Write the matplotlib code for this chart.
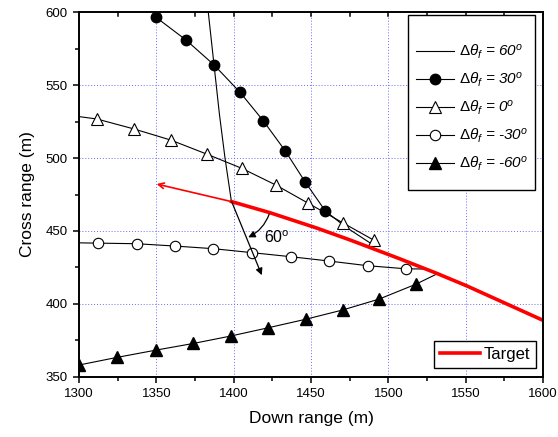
import matplotlib
matplotlib.use('Agg')
import matplotlib.pyplot as plt
from matplotlib.patches import Rectangle

plt.rcParams['font.family'] = ['Liberation Sans', 'DejaVu Sans']
plt.rcParams['mathtext.fontset'] = 'custom'
plt.rcParams['mathtext.rm'] = 'Liberation Sans'
plt.rcParams['mathtext.it'] = 'Liberation Sans:italic'

# launch angle 60 deg (no markers)
x60 = [1382.0, 1383.6, 1387.3, 1390.8, 1394.4, 1398.5]
y60 = [615.0, 600.0, 564.0, 530.0, 500.0, 470.5]

# launch angle 30 deg (filled circles), last two points: line only
x30 = [1349.8, 1369.2, 1387.3, 1404.1, 1419.1, 1433.4, 1446.1, 1459.2, 1472.0, 1490.0]
y30 = [596.7, 581.1, 564.0, 545.2, 525.7, 504.9, 483.8, 463.8, 453.0, 440.5]

# 0 deg (open triangles), first and last: line only
x0 = [1300.0, 1311.4, 1335.6, 1359.3, 1382.5, 1405.2, 1427.3, 1448.2, 1470.5, 1490.5, 1493.0]
y0 = [528.5, 526.9, 520.0, 512.4, 502.8, 493.0, 481.5, 469.0, 455.6, 443.7, 440.0]

# -30 deg (open circles)
xm30 = [1300.0, 1312.5, 1337.3, 1362.1, 1386.8, 1411.6, 1436.8, 1461.8, 1486.6, 1511.2, 1524.0]
ym30 = [441.8, 441.6, 441.2, 439.6, 437.8, 435.1, 432.3, 429.3, 426.1, 424.0, 423.8]

# -60 deg (filled triangles)
xm60 = [1300.0, 1324.4, 1349.6, 1373.9, 1398.1, 1422.4, 1446.5, 1470.5, 1494.1, 1517.6, 1532.3]
ym60 = [357.9, 363.1, 368.1, 372.7, 377.8, 383.5, 389.3, 395.7, 403.2, 413.3, 420.9]

# target path
xt = [1398.7, 1423.5, 1453.6, 1475.2, 1494.6, 1507.5, 1531.2, 1550.6, 1600.0]
yt = [470.1, 462.5, 452.0, 443.8, 436.0, 430.8, 420.9, 412.3, 388.6]
target_start = (1398.7, 470.1)
target_dir_end = (1350.2, 482.2)

# missile heading arrow and angle arc
heading_end = (1418.2, 419.6)
arc_start = (1423.0, 461.6)
arc_end = (1409.4, 445.6)

fig = plt.figure(figsize=(5.58, 4.37), dpi=100)
ax = fig.add_axes([0.1416, 0.1384, 0.8315, 0.833])

ax.plot(x60, y60, color='black', lw=0.8, label=r'$\mathit{\Delta\theta_f}$ = 60$^o$')
ax.plot(x30, y30, color='black', lw=0.8, marker='o', ms=7.5, mfc='black', mec='black',
        markevery=list(range(8)), label=r'$\mathit{\Delta\theta_f}$ = 30$^o$')
ax.plot(x0, y0, color='black', lw=0.8, marker='^', ms=8, mfc='white', mec='black', mew=0.8,
        markevery=list(range(1, 10)), label=r'$\mathit{\Delta\theta_f}$ = 0$^o$')
ax.plot(xm30, ym30, color='black', lw=0.8, marker='o', ms=7.5, mfc='white', mec='black', mew=0.8,
        markevery=list(range(1, 10)), label=r'$\mathit{\Delta\theta_f}$ = -30$^o$')
ax.plot(xm60, ym60, color='black', lw=0.8, marker='^', ms=8, mfc='black', mec='black',
        markevery=list(range(10)), label=r'$\mathit{\Delta\theta_f}$ = -60$^o$')

tline, = ax.plot(xt, yt, color='red', lw=2.6, label='Target')
ax.annotate('', xy=target_dir_end, xytext=target_start,
            arrowprops=dict(arrowstyle='->', color='red', lw=1.2, shrinkA=0, shrinkB=0))
ax.annotate('', xy=heading_end, xytext=target_start,
            arrowprops=dict(arrowstyle='-|>', color='black', lw=0.9, shrinkA=0, shrinkB=0,
                            mutation_scale=10))
ax.annotate('', xy=arc_end, xytext=arc_start,
            arrowprops=dict(arrowstyle='-|>', color='black', lw=0.9, shrinkA=0, shrinkB=0,
                            mutation_scale=10, connectionstyle='arc3,rad=-0.2'))
ax.text(1419.5, 441.7, r'60$^{\mathrm{o}}$', fontsize=11.5, ha='left', va='baseline')

ax.set_xlim(1300, 1600)
ax.set_ylim(350, 600)
ax.set_xticks(range(1300, 1601, 50))
ax.set_yticks(range(350, 601, 50))
ax.set_xticks(range(1325, 1600, 50), minor=True)
ax.set_yticks(range(375, 600, 50), minor=True)
ax.tick_params(which='major', direction='out', length=4.5, width=1.1, labelsize=9.5)
ax.tick_params(which='minor', direction='out', length=3, width=1.1)
for s in ax.spines.values():
    s.set_linewidth(1.4)

# inner ticks along the top edge
for xv in range(1325, 1600, 25):
    ax.plot([xv, xv], [600, 597.5], color='black', lw=1.1, clip_on=False)

for xv in range(1350, 1600, 50):
    ax.axvline(xv, color='#6a6aff', lw=0.7, ls=(0, (1, 2)), zorder=0)
for yv in range(400, 600, 50):
    ax.axhline(yv, color='#6a6aff', lw=0.7, ls=(0, (1, 2)), zorder=0)

ax.set_xlabel('Down range (m)', fontsize=12.5, labelpad=8)
ax.set_ylabel('Cross range (m)', fontsize=12.5, labelpad=8)

handles, labels = ax.get_legend_handles_labels()
leg1 = ax.legend(handles[:5], labels[:5], loc='upper left', bbox_to_anchor=(0.71, 0.937),
                 frameon=False, prop={'style': 'italic', 'size': 11},
                 handlelength=2.45, handletextpad=0.35, labelspacing=0.62, borderpad=0)
ax.add_artist(leg1)
ax.add_patch(Rectangle((0.709, 0.512), 0.274, 0.481, transform=ax.transAxes,
                       fill=True, fc='white', ec='black', lw=1.0, zorder=3))
leg1.set_zorder(4)

leg2 = ax.legend([tline], ['Target'], loc='lower right', bbox_to_anchor=(0.985, 0.023),
                 fontsize=12, handlelength=2.4, handletextpad=0.25, borderpad=0.35,
                 borderaxespad=0, fancybox=False, edgecolor='black', framealpha=1)
leg2.get_frame().set_linewidth(1.0)

fig.savefig('out.png', dpi=100)
